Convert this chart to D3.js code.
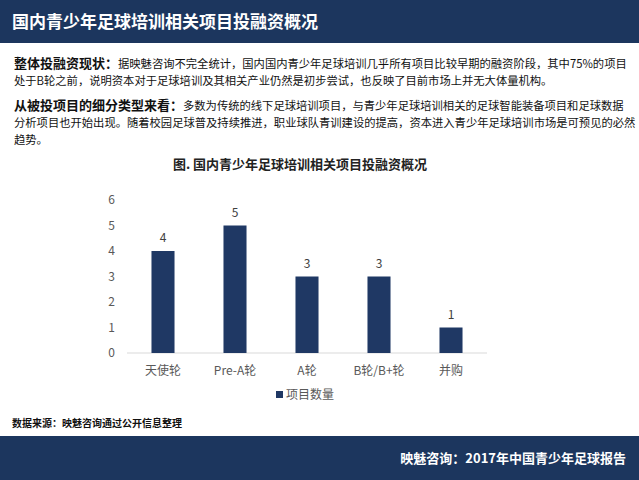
<!DOCTYPE html>
<html><head><meta charset="utf-8">
<script src="https://cdn.jsdelivr.net/npm/d3@7"></script>
<style>body{margin:0;background:#fff}svg{display:block}</style>
</head><body>
<svg id="c" width="639" height="480"></svg>
<script>
const categories = ["天使轮","Pre-A轮","A轮","B轮/B+轮","并购"];
const values = [4,5,3,3,1];
const yTicks = [0,1,2,3,4,5,6];
const seriesName = "项目数量";
const pageTitle = "国内青少年足球培训相关项目投融资概况";
const chartTitle = "图. 国内青少年足球培训相关项目投融资概况";
const para1 = [["整体投融资现状：","据映魅咨询不完全统计，国内国内青少年足球培训几乎所有项目比较早期的融资阶段，其中75%的项目"],["","处于B轮之前，说明资本对于足球培训及其相关产业仍然是初步尝试，也反映了目前市场上并无大体量机构。"]];
const para2 = [["从被投项目的细分类型来看：","多数为传统的线下足球培训项目，与青少年足球培训相关的足球智能装备项目和足球数据"],["","分析项目也开始出现。随着校园足球普及持续推进，职业球队青训建设的提高，资本进入青少年足球培训市场是可预见的必然"],["","趋势。"]];
const source = "数据来源：映魅咨询通过公开信息整理";
const footer = "映魅咨询：2017年中国青少年足球报告";

const navy = "#1c365e", bar = "#1f3864";
const font = "'Noto Sans CJK SC','Noto Sans',sans-serif";
const svg = d3.select("#c").style("font-family", font);

svg.append("rect").attr("x",0).attr("y",0).attr("width",639).attr("height",43).attr("fill",navy);
svg.append("text").attr("x",12).attr("y",28).attr("fill","#fff").attr("font-size",17).attr("font-weight","bold").text(pageTitle);

function para(lines, y0){
  lines.forEach((l,i)=>{
    const t = svg.append("text").attr("x",14).attr("y",y0+i*17).attr("font-size",11.3).attr("fill","#111");
    if(l[0]) t.append("tspan").attr("font-weight","bold").attr("font-size",13).text(l[0]);
    t.append("tspan").text(l[1]);
  });
}
para(para1, 68);
para(para2, 110);

svg.append("text").attr("x",300).attr("y",169).attr("text-anchor","middle").attr("font-size",13).attr("font-weight","bold").attr("fill","#222").text(chartTitle);

const x = d3.scaleBand().domain(categories).range([127,487]).paddingInner(0.68).paddingOuter(0.34);
const y = d3.scaleLinear().domain([0,6]).range([353,200]);

const yAxis = svg.append("g").attr("transform","translate(118,0)").call(d3.axisLeft(y).tickValues(yTicks).tickSize(0).tickFormat(d3.format("d")));
yAxis.select(".domain").remove();
yAxis.selectAll("text").attr("font-size",12).attr("fill","#595959").attr("font-family",font);

svg.append("line").attr("x1",127).attr("x2",487).attr("y1",y(0)).attr("y2",y(0)).attr("stroke","#d9d9d9").attr("stroke-width",1);

svg.selectAll("rect.bar").data(values).join("rect").attr("class","bar")
  .attr("x",(d,i)=>x(categories[i])).attr("width",x.bandwidth())
  .attr("y",d=>y(d)).attr("height",d=>y(0)-y(d)).attr("fill",bar);

svg.selectAll("text.lbl").data(values).join("text").attr("class","lbl")
  .attr("x",(d,i)=>x(categories[i])+x.bandwidth()/2).attr("y",d=>y(d)-9)
  .attr("text-anchor","middle").attr("font-size",12).attr("fill","#404040").text(d=>d);

const xAxis = svg.append("g").attr("transform",`translate(0,${y(0)})`).call(d3.axisBottom(x).tickSize(0).tickPadding(13));
xAxis.select(".domain").remove();
xAxis.selectAll("text").attr("font-size",12).attr("fill","#595959").attr("font-family",font);

svg.append("rect").attr("x",276).attr("y",391).attr("width",7).attr("height",7).attr("fill",bar);
svg.append("text").attr("x",286).attr("y",399).attr("font-size",12).attr("fill","#595959").text(seriesName);

svg.append("text").attr("x",12).attr("y",427).attr("font-size",10).attr("font-weight","bold").attr("fill","#111").text(source);

svg.append("rect").attr("x",0).attr("y",436).attr("width",639).attr("height",44).attr("fill",navy);
svg.append("text").attr("x",626).attr("y",463).attr("text-anchor","end").attr("font-size",13).attr("font-weight","bold").attr("fill","#fff").text(footer);
</script>
</body></html>
